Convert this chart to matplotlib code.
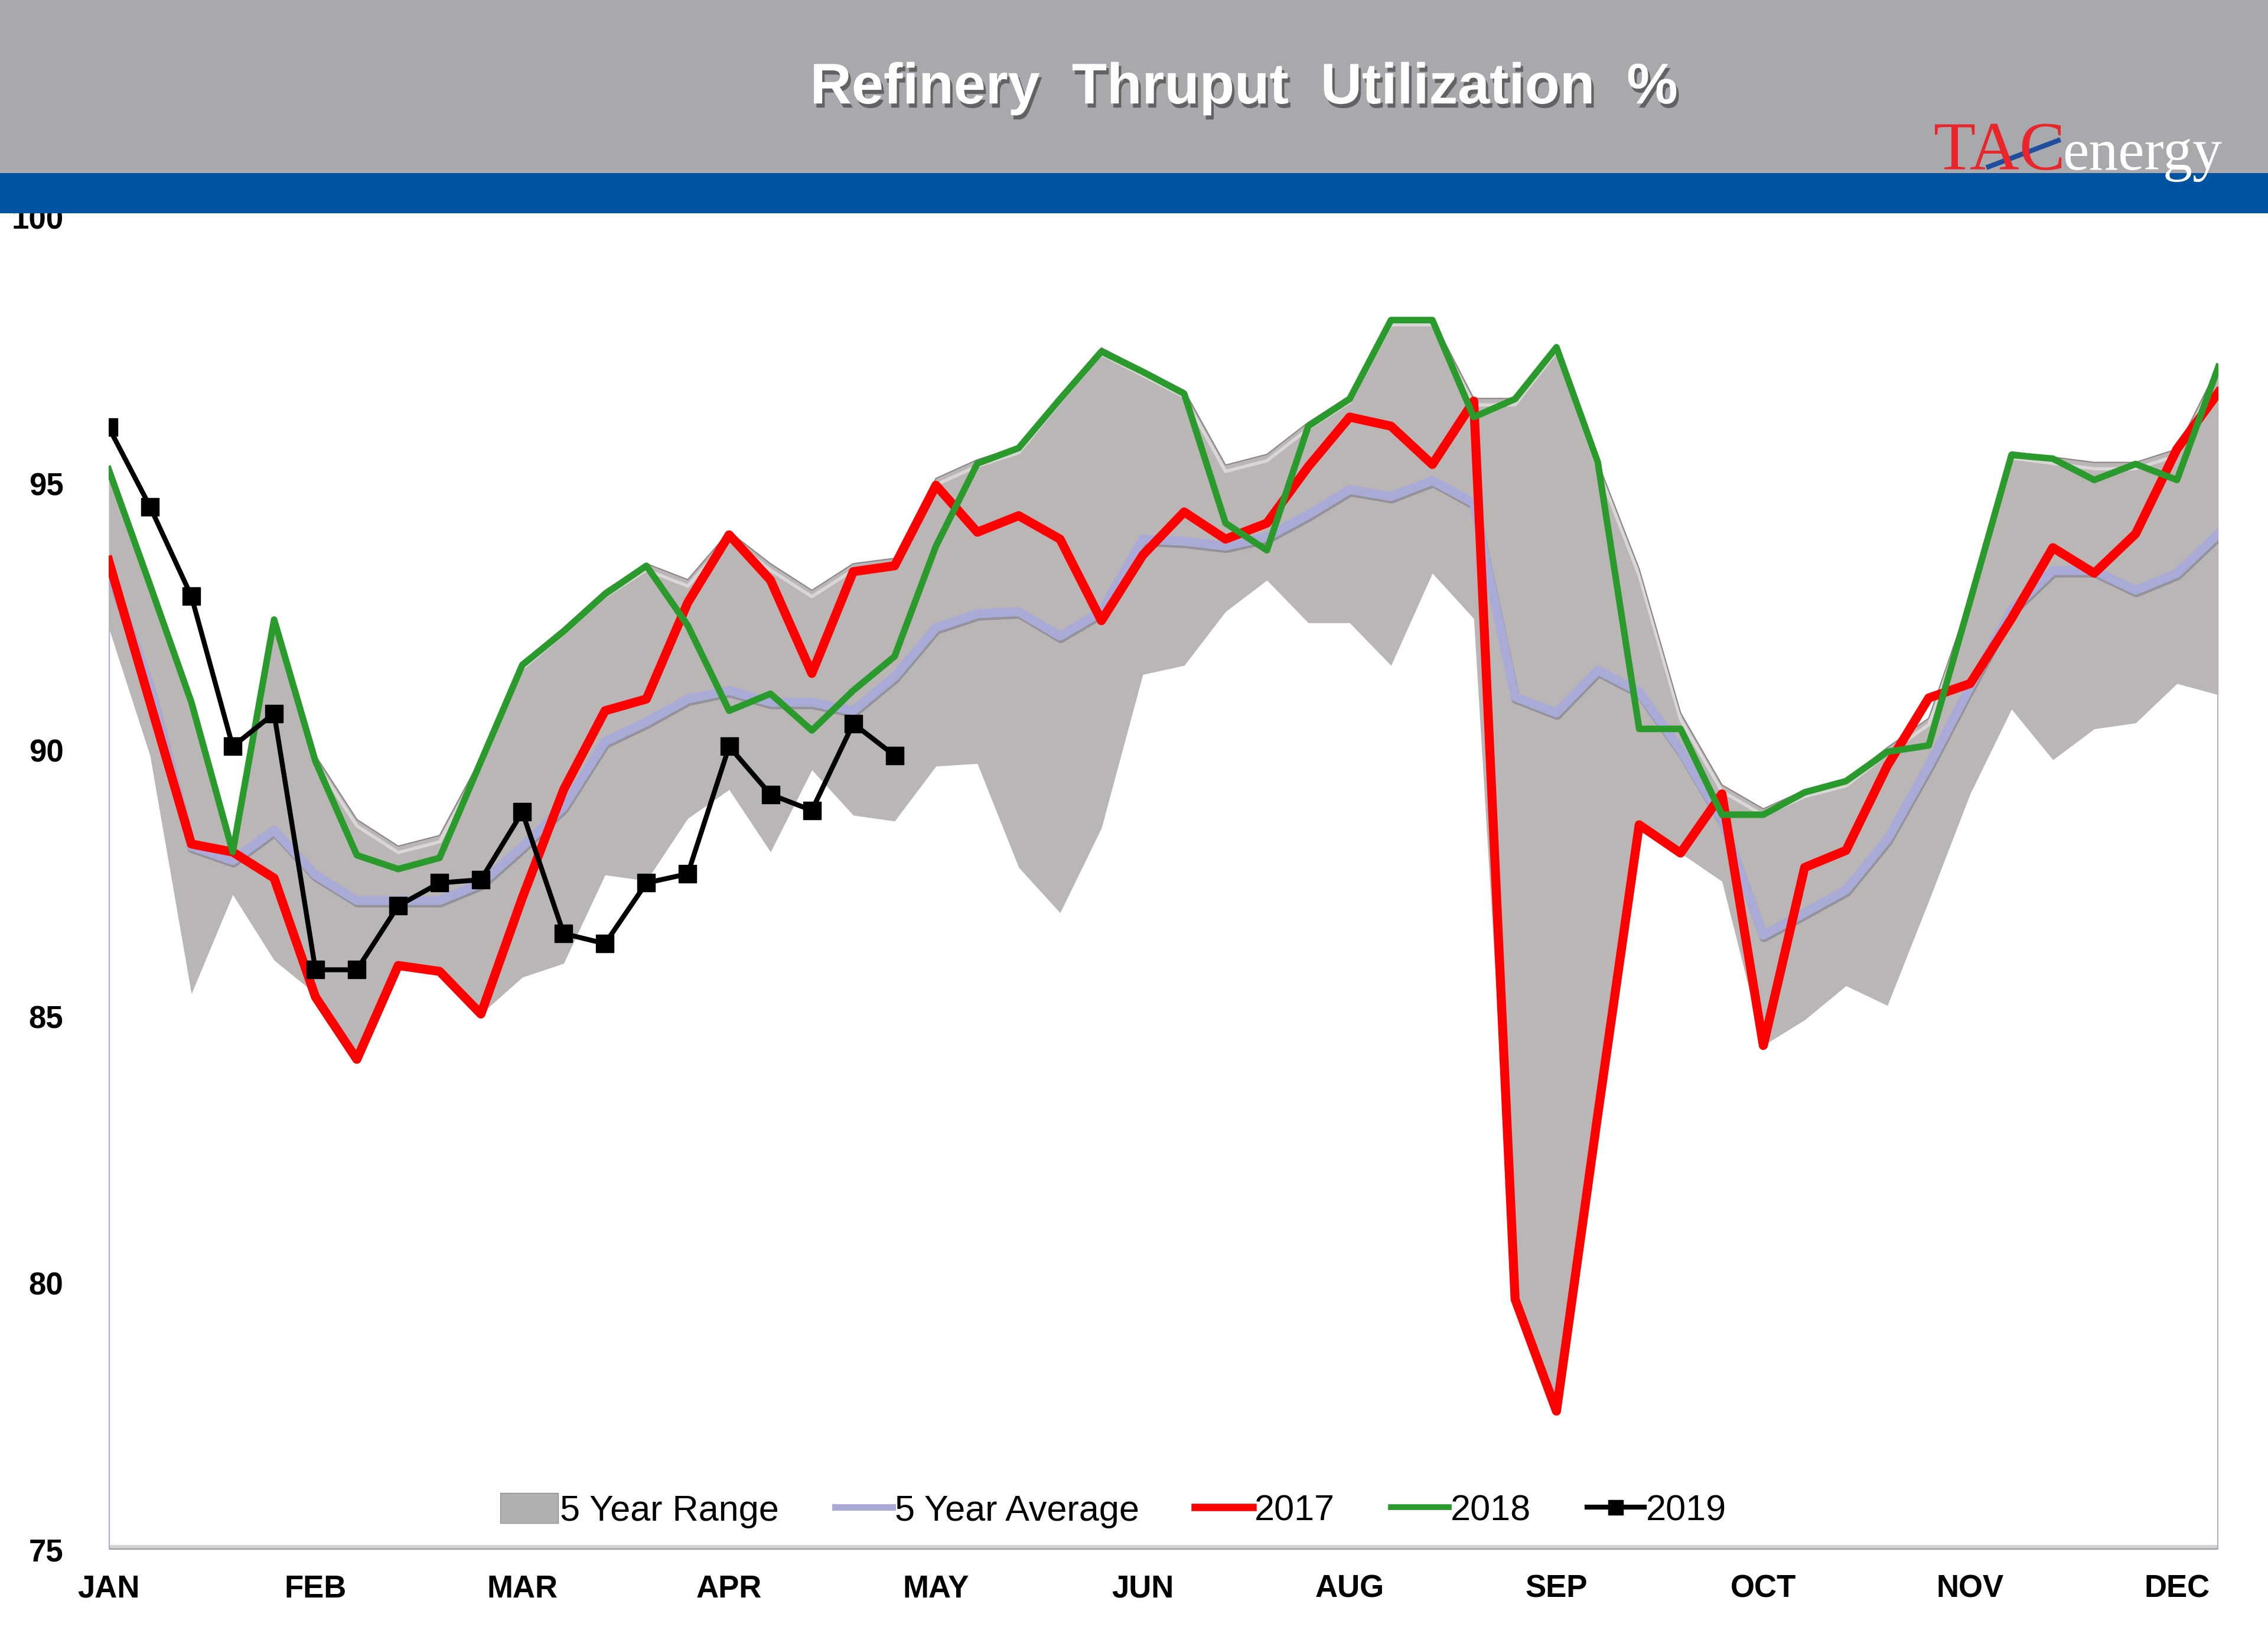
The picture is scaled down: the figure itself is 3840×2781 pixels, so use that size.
import numpy as np
import matplotlib.pyplot as plt
from matplotlib.patches import Rectangle, Patch
from matplotlib.lines import Line2D
import matplotlib.patheffects as pe

# weekly data, 52 weeks; month labels every 5 weeks (no JUL on the original)
WEEKS = np.arange(52)
MONTHS = ["JAN", "FEB", "MAR", "APR", "MAY", "JUN", "AUG", "SEP", "OCT", "NOV", "DEC"]
MONTH_POS = np.arange(0, 51, 5)
Y_TICKS = [75, 80, 85, 90, 95, 100]

RANGE_HI = [95.3, 93.15, 90.95, 88.2, 92.5, 89.9, 88.7, 88.2, 88.4, 89.85,
            91.65, 92.3, 93.0, 93.5, 93.2, 94.1, 93.5, 93.0, 93.5, 93.6,
            95.1, 95.45, 95.7, 96.65, 97.55, 97.15, 96.75, 95.35, 95.55, 96.15,
            96.65, 98.1, 98.1, 96.6, 96.6, 97.6, 95.4, 93.4, 90.7, 89.35,
            88.9, 89.25, 89.45, 90.05, 90.6, 92.85, 95.6, 95.5, 95.4, 95.4,
            95.65, 97.2]
RANGE_LO = [92.3, 89.9, 85.43, 87.29, 86.06, 85.43, 84.2, 85.9, 85.8, 85.05,
            85.74, 86.0, 87.66, 87.55, 88.72, 89.26, 88.09, 89.63, 88.78, 88.67,
            89.7, 89.75, 87.8, 86.95, 88.54, 91.42, 91.59, 92.6, 93.19, 92.39,
            92.39, 91.59, 93.32, 92.47, 79.7, 77.6, 83.17, 88.6, 88.07, 87.54,
            84.46, 84.94, 85.58, 85.21, 87.17, 89.18, 90.77, 89.82, 90.4, 90.51,
            91.25, 91.04]
AVG5 = [93.4, 91.2, 88.2, 87.93, 88.5, 87.66, 87.18, 87.18, 87.18, 87.5,
        88.19, 88.94, 90.16, 90.53, 90.96, 91.12, 90.9, 90.9, 90.74, 91.38,
        92.3, 92.56, 92.6, 92.14, 92.6, 93.96, 93.92, 93.83, 94.0, 94.42,
        94.89, 94.76, 95.06, 94.64, 91.0, 90.7, 91.5, 91.1, 90.0, 88.7,
        86.53, 86.95, 87.38, 88.33, 89.71, 91.19, 92.63, 93.37, 93.37, 93.0,
        93.32, 94.06]
Y2017 = [93.56, 90.9, 88.24, 88.09, 87.6, 85.37, 84.2, 85.96, 85.85, 85.05,
         87.23, 89.26, 90.74, 90.96, 92.77, 94.04, 93.19, 91.44, 93.35, 93.46,
         94.97, 94.09, 94.40, 93.96, 92.43, 93.66, 94.47, 93.96, 94.26, 95.32,
         96.25, 96.08, 95.36, 96.55, 79.7, 77.6, 83.17, 88.6, 88.07, 89.18,
         84.46, 87.8, 88.12, 89.71, 90.98, 91.25, 92.47, 93.80, 93.32, 94.06,
         95.65, 96.71]
Y2018 = [95.27, 93.1, 90.9, 88.09, 92.45, 89.79, 88.03, 87.77, 87.98, 89.79,
         91.6, 92.23, 92.93, 93.46, 92.34, 90.74, 91.06, 90.37, 91.12, 91.76,
         93.83, 95.38, 95.67, 96.59, 97.48, 97.1, 96.69, 94.26, 93.75, 96.08,
         96.59, 98.07, 98.07, 96.25, 96.59, 97.56, 95.40, 90.40, 90.40, 88.79,
         88.79, 89.21, 89.42, 89.97, 90.09, 92.8, 95.54, 95.47, 95.07, 95.37,
         95.07, 97.19]
Y2019 = [96.06, 94.57, 92.89, 90.07, 90.69, 85.88, 85.88, 87.08, 87.51, 87.57,
         88.84, 86.56, 86.37, 87.51, 87.68, 90.07, 89.17, 88.87, 90.50, 89.90]

GRAY = "#BAB6B6"; LAV = "#A9ABD6"; RED = "#FF0000"; GREEN = "#2A9A2C"
FONT = ["Liberation Sans", "DejaVu Sans"]

fig = plt.figure(figsize=(38.4, 27.81), dpi=100)
# header bands
fig.patches.append(Rectangle((0, 0.8946), 1, 0.1054, transform=fig.transFigure,
                             facecolor="#A7A9AC", edgecolor="none", zorder=0))
fig.patches.append(Rectangle((0, 0.8702), 1, 0.0244, transform=fig.transFigure,
                             facecolor="#0053A1", edgecolor="none", zorder=0))
fig.text(0.5485, 0.946, "Refinery  Thruput  Utilization  %", ha="center", va="center",
         color="white", fontsize=70, fontweight="bold", family=FONT,
         path_effects=[pe.withSimplePatchShadow(offset=(3, -5), shadow_rgbFace="#333333", alpha=0.6)])
# logo
fig.text(0.8525, 0.8968, "TAC", color="#E8262B", fontsize=84, family="Liberation Serif",
         va="baseline", ha="left")
fig.text(0.9095, 0.8968, "energy", color="white", fontsize=72, family="Liberation Serif",
         va="baseline", ha="left")
fig.lines.append(Line2D([0.8768, 0.9075], [0.8985, 0.9145], transform=fig.transFigure,
                        color="#1F4E9E", lw=6))

ax = fig.add_axes([0.0479, 0.0568, 0.9302, 0.811])
x = WEEKS
ax.fill_between(x, RANGE_LO, RANGE_HI, color=GRAY, lw=0, zorder=1)
ax.plot(x, RANGE_HI, color="#8E8484", lw=1.5, zorder=1.2)
ax.plot(x, np.array(RANGE_HI) - 0.12, color="white", lw=4, alpha=0.45, zorder=1.1)
# end drop lines of the average series
for i in (0, 51):
    ax.plot([i, i], [75, AVG5[i]], color=LAV, lw=3, zorder=0.9)
ax.plot(x, AVG5, color=LAV, lw=11, zorder=2,
        path_effects=[pe.SimpleLineShadow(offset=(1, -3), shadow_color="#6E6E7E", alpha=0.5), pe.Normal()])
ax.plot(x, Y2017, color=RED, lw=11, zorder=3)
ax.plot(x, Y2018, color=GREEN, lw=8, zorder=4)
ax.plot(np.arange(len(Y2019)), Y2019, color="black", lw=6, marker="s", ms=22, zorder=5)

ax.axhline(75, color="#D0D0D0", lw=12, zorder=0.5)
ax.axhline(75, color="#9A9A9A", lw=3, zorder=0.6)

ax.set_xlim(0, 51); ax.set_ylim(75, 100)
ax.set_xticks(MONTH_POS); ax.set_xticklabels(MONTHS)
ax.set_yticks(Y_TICKS); ax.set_yticklabels([str(v) for v in Y_TICKS])
for lab in ax.get_xticklabels() + ax.get_yticklabels():
    lab.set_family(FONT); lab.set_fontweight("bold"); lab.set_fontsize(38)
ax.tick_params(axis="x", length=0, pad=30)
ax.tick_params(axis="y", length=0, pad=55)
for s in ax.spines.values():
    s.set_visible(False)

handles = [Patch(facecolor="#B0B0B0", edgecolor="#909090", label="5 Year Range"),
           Line2D([], [], color=LAV, lw=8, label="5 Year Average"),
           Line2D([], [], color=RED, lw=9, label="2017"),
           Line2D([], [], color=GREEN, lw=7, label="2018"),
           Line2D([], [], color="black", lw=6, marker="s", ms=18, label="2019")]
fig.legend(handles=handles, loc="center", bbox_to_anchor=(0.491, 0.0805), ncol=5,
           frameon=False, prop={"family": FONT, "size": 44}, handlelength=1.6,
           handletextpad=0.05, columnspacing=1.55, handleheight=0.9)

fig.savefig("out.png", dpi=100)
